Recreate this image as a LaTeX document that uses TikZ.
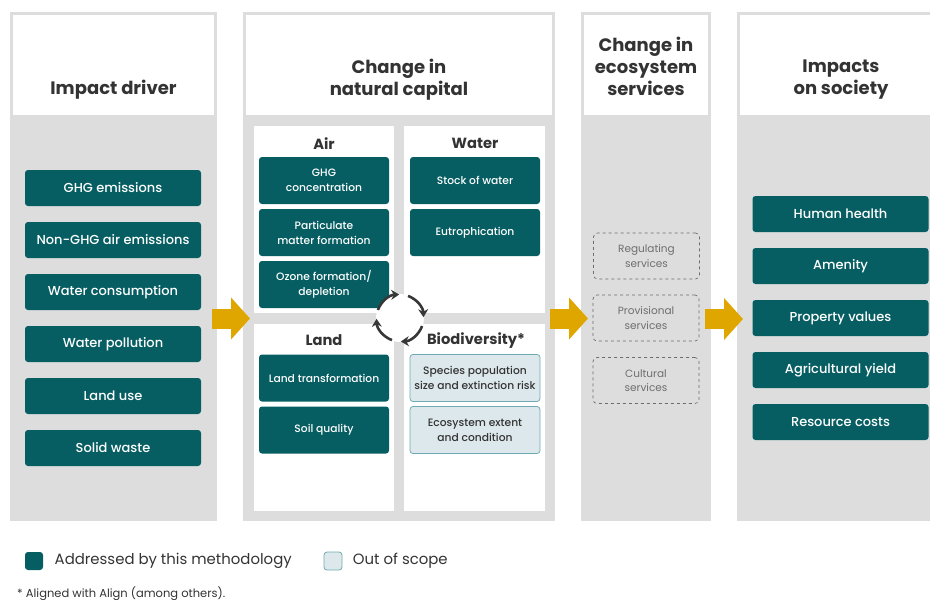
\documentclass[tikz,border=0pt]{standalone}
\usepackage{fontspec}
\setmainfont{Poppins}
\newfontfamily\medfont{Poppins Medium}
\usetikzlibrary{arrows.meta, positioning, calc}

\definecolor{tealbox}{RGB}{6, 94, 99}
\definecolor{scopefill}{RGB}{221, 232, 236}
\definecolor{scopeline}{RGB}{112, 170, 178}
\definecolor{panelgray}{RGB}{221, 221, 221}
\definecolor{flowyellow}{RGB}{224, 166, 0}
\definecolor{headtext}{RGB}{51, 51, 51}
\definecolor{servtext}{RGB}{110, 110, 110}
\definecolor{cycledark}{RGB}{55, 55, 55}

\tikzset{
  header/.style={font=\bfseries\fontsize{18}{22}\selectfont, text=headtext, align=center},
  groupname/.style={font=\bfseries\fontsize{14.7}{16}\selectfont, text=headtext},
  inscope/.style={rectangle, rounded corners=3pt, fill=tealbox, text=white, align=center, inner sep=0pt},
  outscope/.style={rectangle, rounded corners=3pt, fill=scopefill, draw=scopeline, line width=0.8pt, text=headtext, align=center, inner sep=0pt},
  widebox/.style={minimum width=176pt, minimum height=36pt, font=\medfont\fontsize{13}{15}\selectfont},
  smallbox/.style={minimum width=130pt, minimum height=47pt, font=\medfont\fontsize{10.7}{15}\selectfont},
  service/.style={rectangle, rounded corners=4pt, draw=servtext, dashed, line width=0.7pt, text=servtext, align=center, inner sep=0pt,
    font=\fontsize{10.5}{14.5}\selectfont, minimum width=106pt, minimum height=46pt},
  flow/.style={draw=flowyellow, line width=20pt, -{Triangle[length=19pt, width=41pt]}},
  cyclearc/.style={draw=cycledark, line width=2.6pt, -{Stealth[length=8pt, width=10pt]}},
  legendtext/.style={font=\fontsize{14.9}{16}\selectfont, text=headtext, anchor=west}
}

\begin{document}
\begin{tikzpicture}[x=1pt, y=-1pt]
  \useasboundingbox (0,0) rectangle (930,600);

  % Column panels: grey frame with white header
  \fill[panelgray] (10,12) rectangle (217,521);
  \fill[white] (13,15) rectangle (214,115);
  \fill[panelgray] (243,12) rectangle (555,521);
  \fill[white] (246,15) rectangle (552,115);
  \fill[panelgray] (581,12) rectangle (711,521);
  \fill[white] (584,15) rectangle (708,115);
  \fill[panelgray] (737,12) rectangle (930,521);
  \fill[white] (740,15) rectangle (930,115);

  % Natural capital quarters
  \fill[white] (254,126) rectangle (394,313);   % air
  \fill[white] (404,126) rectangle (545,313);   % water
  \fill[white] (254,324) rectangle (394,511);   % land
  \fill[white] (404,324) rectangle (545,511);   % biodiversity

  % Headers
  \node[header] (hDriver) at (113.5,89.5) {Impact driver};
  \node[header] (hCapital) at (399,80) {Change in\\natural capital};
  \node[header] (hServices) at (646,66.5) {Change in\\ecosystem\\services};
  \node[header] (hSociety) at (841,80) {Impacts\\on society};

  % Impact drivers
  \foreach \i/\txt in {0/GHG emissions, 1/Non-GHG air emissions, 2/Water consumption,
                       3/Water pollution, 4/Land use, 5/Solid waste} {
    \node[inscope, widebox] (drv\i) at (113, 188+\i*52) {\txt};
  }

  % Natural capital groups
  \node[groupname] (gAir) at (324,143.5) {Air};
  \node[groupname] (gWater) at (475,143.5) {Water};
  \node[groupname] (gLand) at (324,340.5) {Land};
  \node[groupname] (gBio) at (476,340.5) {Biodiversity*};

  \node[inscope, smallbox] (airGHG) at (324,180.5) {GHG\\concentration};
  \node[inscope, smallbox] (airPM) at (324,232.5) {Particulate\\matter formation};
  \node[inscope, smallbox] (airOzone) at (324,284.5) {Ozone formation/\\depletion};
  \node[inscope, smallbox] (watStock) at (475,180.5) {Stock of water};
  \node[inscope, smallbox] (watEutro) at (475,232.5) {Eutrophication};
  \node[inscope, smallbox] (landTrans) at (324,378) {Land transformation};
  \node[inscope, smallbox] (landSoil) at (324,430) {Soil quality};
  \node[outscope, smallbox] (bioSpecies) at (475,378) {Species population\\size and extinction risk};
  \node[outscope, smallbox] (bioEco) at (475,430) {Ecosystem extent\\and condition};

  % Cycle between the quarters
  \coordinate (cyc) at (400,318);
  \fill[white] (cyc) circle[radius=24];
  \foreach \s in {200, 290, 20, 110} {
    \draw[cyclearc] ($(cyc)+(\s:23.5)$) arc[start angle=\s, delta angle=68, radius=23.5];
  }

  % Ecosystem services (dashed)
  \node[service] (servReg) at (646.5,256) {Regulating\\services};
  \node[service] (servProv) at (646,318) {Provisional\\services};
  \node[service] (servCult) at (646,380.5) {Cultural\\services};

  % Impacts on society
  \foreach \i/\txt in {0/Human health, 1/Amenity, 2/Property values,
                       3/Agricultural yield, 4/Resource costs} {
    \node[inscope, widebox] (soc\i) at (840.5, 214+\i*52) {\txt};
  }

  % Flow arrows between columns
  \coordinate (flowAin) at (212,318.5);
  \coordinate (flowAout) at (250,318.5);
  \coordinate (flowBin) at (550,318.5);
  \coordinate (flowBout) at (588,318.5);
  \coordinate (flowCin) at (705,319);
  \coordinate (flowCout) at (743,319);
  \draw[flow] (flowAin) -- (flowAout);
  \draw[flow] (flowBin) -- (flowBout);
  \draw[flow] (flowCin) -- (flowCout);

  % Legend
  \node[inscope, minimum size=18pt] (keyIn) at (34,561) {};
  \node[legendtext, right=8pt of keyIn] (keyInText) {Addressed by this methodology};
  \node[outscope, minimum size=18pt] (keyOut) at (333,561) {};
  \node[legendtext, right=7pt of keyOut] (keyOutText) {Out of scope};
  \node[anchor=west, font=\fontsize{11.5}{13}\selectfont, text=headtext, inner sep=0pt] (note) at (17,594) {* Aligned with Align (among others).};
\end{tikzpicture}
\end{document}
